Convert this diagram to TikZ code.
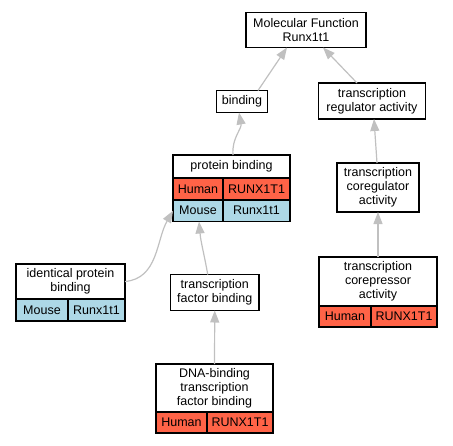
\documentclass[tikz,border=0pt]{standalone}
\usepackage{fontspec}
\setmainfont{Liberation Sans}
\usetikzlibrary{arrows.meta}
\definecolor{edgegray}{RGB}{192,192,192}
\definecolor{humanred}{RGB}{255,99,71}
\definecolor{mouseblue}{RGB}{173,216,230}
\begin{document}
\begin{tikzpicture}[x=1pt,y=-1pt,
  box/.style={draw=black, line width=1.2pt, fill=white, inner sep=0pt, outer sep=0pt, align=center,
    font=\fontsize{12.5}{13.8}\selectfont},
  hcell/.style={box, fill=humanred},
  mcell/.style={box, fill=mouseblue},
  isa/.style={draw=edgegray, line width=1.2pt, -{Triangle[length=12pt,width=9pt]}, shorten >=0pt}
]
\useasboundingbox (0,0) rectangle (453,445);
% Molecular Function
\node[box, minimum width=120pt, minimum height=35pt] (mf) at (306,30) {Molecular Function\\Runx1t1};
% binding
\node[box, minimum width=51pt, minimum height=22pt] (bind) at (242,101.5) {binding};
% transcription regulator activity
\node[box, minimum width=107pt, minimum height=36pt] (tra) at (372,101) {transcription\\regulator activity};
% protein binding
\node[box, minimum width=117pt, minimum height=23pt] (pbt) at (231.5,166.5) {protein binding};
\node[hcell, minimum width=50pt, minimum height=22pt] (pbh) at (198,189) {Human};
\node[hcell, minimum width=67pt, minimum height=22pt] (pbhg) at (256.5,189) {RUNX1T1};
\node[mcell, minimum width=50pt, minimum height=21.5pt] (pbm) at (198,210.75) {Mouse};
\node[mcell, minimum width=67pt, minimum height=21.5pt] (pbmg) at (256.5,210.75) {Runx1t1};
% identical protein binding
\node[box, minimum width=109pt, minimum height=35pt] (ipbt) at (70.5,281.5) {identical protein\\binding};
\node[mcell, minimum width=52pt, minimum height=22pt] (ipbm) at (42,310) {Mouse};
\node[mcell, minimum width=57pt, minimum height=22pt] (ipbmg) at (96.5,310) {Runx1t1};
% transcription factor binding
\node[box, minimum width=88.5pt, minimum height=36pt] (tfb) at (214.75,292.5) {transcription\\factor binding};
% DNA-binding transcription factor binding
\node[box, minimum width=117pt, minimum height=48pt] (dnat) at (214.5,388) {DNA-binding\\transcription\\factor binding};
\node[hcell, minimum width=51pt, minimum height=21pt] (dnah) at (181.5,422.5) {Human};
\node[hcell, minimum width=66pt, minimum height=21pt] (dnahg) at (240,422.5) {RUNX1T1};
% transcription coregulator activity
\node[box, minimum width=82pt, minimum height=49pt] (trc) at (378,187.5) {transcription\\coregulator\\activity};
% transcription corepressor activity
\node[box, minimum width=118pt, minimum height=49pt] (trpt) at (378,281.5) {transcription\\corepressor\\activity};
\node[hcell, minimum width=52pt, minimum height=21pt] (trph) at (345,316.5) {Human};
\node[hcell, minimum width=66pt, minimum height=21pt] (trphg) at (404,316.5) {RUNX1T1};
% edges
\draw[isa] ([xshift=16pt]bind.north) -- ([xshift=-19pt]mf.south);
\draw[isa] ([xshift=-15pt]tra.north) -- ([xshift=17pt]mf.south);
\draw[isa] ([xshift=1.5pt]pbt.north) to[out=95,in=-80] ([xshift=-3pt]bind.south);
\draw[isa] (ipbt.east) to[out=5,in=240] (pbm.west);
\draw[isa] ([xshift=-7pt]tfb.north) to[out=100,in=-85] ([xshift=1pt]pbm.south);
\draw[isa] (dnat.north) -- (tfb.south);
\draw[isa] ([xshift=-1pt]trc.north) -- ([xshift=2pt]tra.south);
\draw[isa] (trpt.north) -- (trc.south);
\end{tikzpicture}
\end{document}
